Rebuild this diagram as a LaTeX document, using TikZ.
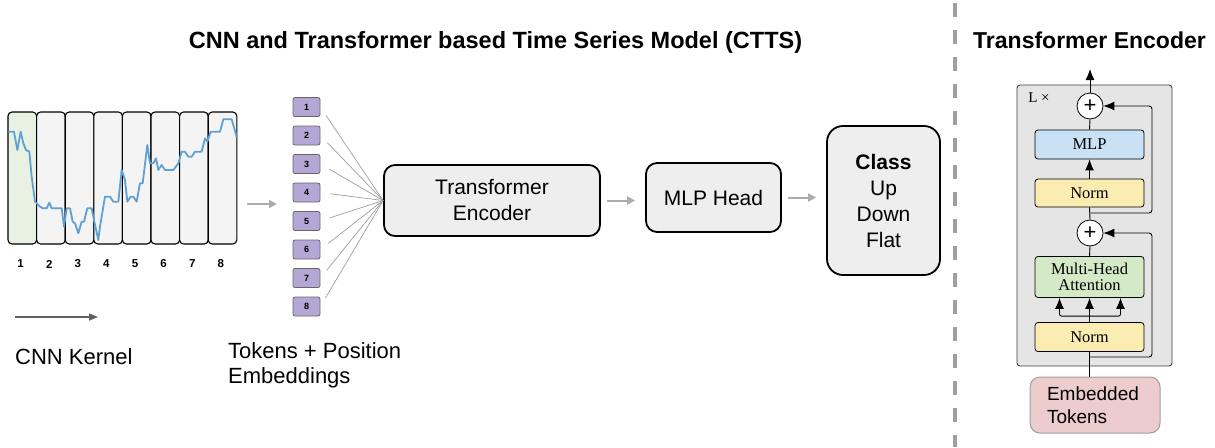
\documentclass[tikz,border=0pt]{standalone}
\usepackage{fontspec}
\setmainfont{Liberation Sans}
\newfontfamily\encfont{Liberation Serif}
\usetikzlibrary{arrows.meta,positioning}
\definecolor{wingreen}{RGB}{233,242,226}
\definecolor{wingray}{RGB}{244,244,244}
\definecolor{seriesblue}{RGB}{96,160,210}
\definecolor{tokpurple}{RGB}{180,167,214}
\definecolor{mlpblue}{RGB}{201,225,244}
\definecolor{normyellow}{RGB}{251,236,178}
\definecolor{mhagreen}{RGB}{212,233,198}
\definecolor{embpink}{RGB}{236,204,204}

\begin{document}
\begin{tikzpicture}[x=1pt,y=-1pt,
	win/.style={draw=black,line width=1.1pt,rounded corners=4pt,minimum width=28.6pt,minimum height=132pt,inner sep=0pt},
	num/.style={font=\fontsize{11.5}{12}\selectfont\bfseries,inner sep=0pt},
	tok/.style={draw=gray!80!black,line width=0.8pt,rounded corners=2pt,fill=tokpurple,minimum width=27pt,minimum height=19pt,inner sep=0pt,font=\fontsize{9}{9}\selectfont\bfseries},
	blk/.style={draw=black,line width=1.8pt,rounded corners=11pt,fill=gray!13,align=center,inner sep=0pt,font=\fontsize{21}{26}\selectfont},
	garrow/.style={-{Triangle[length=8pt,width=8pt]},draw=gray!65,line width=2pt,shorten <=6pt,shorten >=10pt},
	layer/.style={draw=black,line width=0.8pt,rounded corners=3pt,minimum width=109pt,inner sep=0pt,align=center,font=\encfont\fontsize{16.5}{16}\selectfont},
	plus/.style={draw=black,line width=0.8pt,circle,fill=white,minimum size=26pt,inner sep=0pt,font=\fontsize{22}{22}\selectfont},
	earrow/.style={-{Latex[length=11pt,width=9pt]},line width=0.9pt}]
	\useasboundingbox[fill=white] (0,0) rectangle (1215,447);

	\node[font=\fontsize{23.5}{26}\selectfont\bfseries,anchor=base] (title) at (495.5,48) {CNN and Transformer based Time Series Model (CTTS)};
	\node[font=\fontsize{23}{26}\selectfont\bfseries,anchor=base] (enctitle) at (1089.5,48) {Transformer Encoder};
	\draw[gray!75,line width=4pt,dash pattern=on 14pt off 13pt] (955,3) -- (955,447);

	\foreach \i/\c in {1/wingreen,2/wingray,3/wingray,4/wingray,5/wingray,6/wingray,7/wingray,8/wingray} {
		\node[win,fill=\c] (w\i) at ({28.6*\i-6.3},178) {};
		\node[num] (n\i) at ({28.6*\i-8},264) {\i};
	}
	\begin{scope}[shift={(0,100)},scale=1/3]
		\draw[seriesblue,line width=1.8pt,line join=round] plot coordinates {(25,95) (42,95) (52,150) (62,95) (70,130) (78,150) (88,155) (95,230) (105,305) (120,320) (130,325) (140,325) (148,308) (155,325) (165,325) (185,325) (192,380) (200,325) (210,325) (218,365) (225,370) (235,400) (245,365) (252,365) (262,325) (275,325) (283,365) (295,420) (300,380) (315,290) (330,290) (340,305) (355,305) (365,210) (375,240) (382,305) (392,290) (400,290) (410,305) (420,250) (428,250) (442,135) (450,190) (460,190) (468,175) (475,210) (485,195) (495,210) (520,210) (535,190) (545,155) (555,155) (565,170) (575,170) (585,155) (605,155) (615,115) (622,125) (632,95) (660,95) (670,58) (695,58) (710,110)};
	\end{scope}

	\coordinate (ka) at (15,317);
	\coordinate (kb) at (98,317);
	\draw[-{Triangle[length=9pt,width=7pt]},draw=gray!75!black,line width=1.5pt] (ka) -- (kb);
	\node[font=\fontsize{22}{25}\selectfont,anchor=base west,inner sep=0pt] (kernel) at (15,364) {CNN Kernel};

	\coordinate (sa) at (247,204);
	\coordinate (sb) at (277,204);
	\draw[-{Triangle[length=8pt,width=8pt]},draw=gray!65,line width=2pt] (sa) -- (sb);

	\node[blk,minimum width=216pt,minimum height=71pt] (enc) at (492,200.5) {Transformer\\Encoder};
	\node[blk,minimum width=135pt,minimum height=69pt] (mlph) at (713.5,197.5) {MLP Head};
	\node[blk,minimum width=113pt,minimum height=149pt,rounded corners=16pt] (cls) at (883.5,200.5) {\textbf{Class}\\Up\\Down\\Flat};

	\foreach \i in {1,...,8} {
		\node[tok] (t\i) at (306.5,{107+28.5*(\i-1)}) {\i};
		\draw[gray!75,line width=0.7pt,shorten <=10pt] (t\i.east) -- (enc.west);
	}
	\node[font=\fontsize{22}{25}\selectfont,anchor=north west,inner sep=0pt,align=left] (toklbl) at (228,342) {Tokens + Position\\Embeddings};

	\draw[garrow] (enc.east) -- (enc.east -| mlph.west);
	\draw[garrow] (mlph.east) -- (mlph.east -| cls.west);

	\node[draw=gray!50!black,line width=0.9pt,rounded corners=3pt,fill=gray!20,minimum width=155pt,minimum height=281pt,inner sep=0pt] (frame) at (1094.5,225.5) {};
	\node[font=\encfont\fontsize{15}{15}\selectfont] (lx) at (1039,98) {L ×};
	\node[layer,fill=normyellow,minimum height=29pt] (normA) at (1089.5,337) {Norm};
	\node[layer,fill=mhagreen,minimum height=41pt] (mha) at (1089.5,277) {Multi-Head\\Attention};
	\node[plus] (plusA) at (1090,233) {+};
	\node[layer,fill=normyellow,minimum height=28pt] (normB) at (1089.5,193) {Norm};
	\node[layer,fill=mlpblue,minimum height=29pt] (mlp) at (1089.5,144.5) {MLP};
	\node[plus] (plusB) at (1090,106) {+};
	\coordinate (out) at (1090,69);
	\node[draw=gray!75,line width=1pt,rounded corners=10pt,fill=embpink,minimum width=130pt,minimum height=56pt,text width=96pt,inner xsep=17pt,align=left,font=\fontsize{19}{23}\selectfont] (emb) at (1095,405) {Embedded\\Tokens};

	\coordinate (jA) at (1090,357);
	\coordinate (skA) at (1152,233);
	\coordinate (jB) at (1090,213);
	\coordinate (skB) at (1152,106);
	\coordinate (fork) at ([yshift=6pt]normA.north);

	\draw[line width=0.9pt] (normA.south |- emb.north) -- (normA.south);
	\draw[earrow,rounded corners=3pt] (jA) -| (skA) -- (plusA.east);
	\draw[earrow] (normA.north) -- (mha.south);
	\draw[earrow,rounded corners=2pt] (fork) -| ([xshift=-30pt]mha.south);
	\draw[earrow,rounded corners=2pt] (fork) -| ([xshift=31pt]mha.south);
	\draw[line width=0.9pt] (mha.north) -- (plusA.south);
	\draw[line width=0.9pt] (plusA.north) -- (normB.south);
	\draw[earrow,rounded corners=3pt] (jB) -| (skB) -- (plusB.east);
	\draw[earrow] (normB.north) -- (mlp.south);
	\draw[line width=0.9pt] (mlp.north) -- (plusB.south);
	\draw[earrow] (plusB.north) -- (out);
\end{tikzpicture}
\end{document}
